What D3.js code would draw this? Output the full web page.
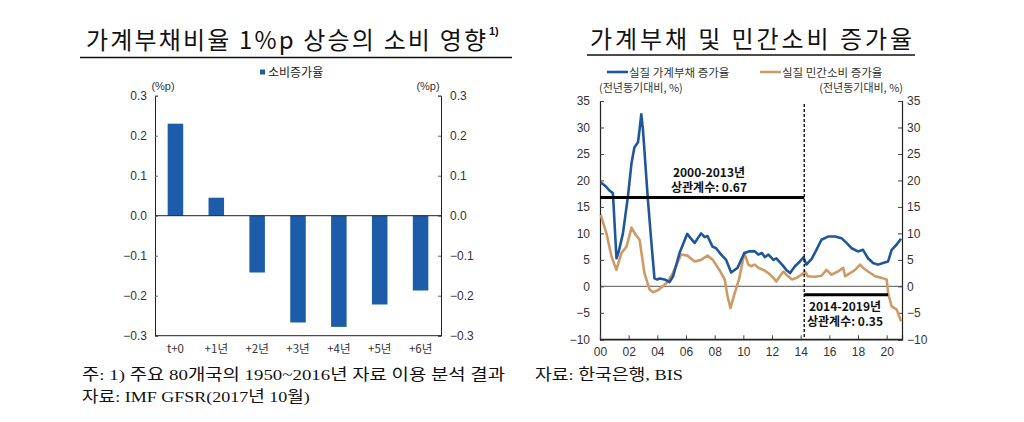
<!DOCTYPE html>
<html><head><meta charset="utf-8">
<script src="https://cdn.jsdelivr.net/npm/d3@7"></script>
<style>
html,body{margin:0;padding:0;background:#fff;}
svg{display:block;}
</style></head>
<body>
<svg id="c" width="1024" height="422"></svg>
<script>
// ---------- Left chart data ----------
const barCategories = ["t+0","+1년","+2년","+3년","+4년","+5년","+6년"];
const barValues = [0.23, 0.045, -0.142, -0.267, -0.278, -0.222, -0.187];
const barTicks = [-0.3,-0.2,-0.1,0.0,0.1,0.2,0.3];

// ---------- Right chart data ----------
const debtYears = [2000.05,2000.4,2000.7,2000.9,2001.15,2001.3,2001.6,2001.95,2002.2,2002.4,2002.65,2002.76,2002.88,2003.0,2003.34,2003.57,2003.8,2004.0,2004.15,2004.5,2004.85,2005.1,2005.55,2006.08,2006.35,2006.6,2007.05,2007.3,2007.5,2007.85,2008.1,2008.45,2008.8,2009.15,2009.6,2010.07,2010.4,2010.8,2011.05,2011.3,2011.5,2011.75,2012.1,2012.3,2012.7,2013.0,2013.26,2013.6,2013.95,2014.2,2014.4,2014.77,2015.1,2015.45,2015.9,2016.4,2016.85,2017.2,2017.55,2018.0,2018.35,2018.7,2019.05,2019.4,2019.75,2020.1,2020.35,2020.7,2021.0];
const debtGrowth = [19.6,18.9,18.0,17.6,5.3,6.5,10,17,23.3,26.2,27.2,29.6,32.5,29.5,16.4,8.8,1.5,1.3,1.5,1.3,0.8,1.9,6.3,9.9,9.0,8.2,10,9.3,9.5,7.5,7.2,6,5,2.6,3.5,6.3,6.6,6.6,6.0,6.3,5.5,6.0,5.0,5.3,4.1,3.1,2.5,3.8,4.7,5.5,4.1,5.2,6.9,8.8,9.4,9.4,9.1,8.2,7.2,6.6,6.9,5.3,4.4,4.1,4.4,4.7,6.9,7.9,9.0];
const consYears = [2000.05,2000.45,2000.8,2001.14,2001.5,2001.85,2002.2,2002.5,2002.76,2003.1,2003.46,2003.7,2004.04,2004.5,2004.73,2005.08,2005.66,2006.1,2006.6,2007.05,2007.5,2007.87,2008.33,2008.7,2008.9,2009.1,2009.4,2009.7,2010.07,2010.35,2010.55,2010.8,2011.05,2011.4,2011.75,2012.1,2012.3,2012.55,2012.8,2013.0,2013.4,2013.7,2014.07,2014.3,2014.5,2015.0,2015.45,2015.8,2016.15,2016.6,2016.97,2017.1,2017.45,2017.8,2018.15,2018.35,2018.7,2019.2,2019.65,2020.0,2020.1,2020.35,2020.7,2021.0];
const consGrowth = [13.5,10,5.7,3.1,6.3,7.5,11.1,9.7,8.8,2.5,-0.6,-1.1,-0.75,0.3,0.9,2.5,6.0,5.8,4.7,5.0,5.8,5.0,3.1,1.3,-1.9,-4.1,-1.3,1.3,6.3,4.1,3.8,4.1,3.5,3.1,2.5,1.6,0.9,1.9,2.8,2.2,1.3,1.6,2.2,2.8,1.9,1.8,2.0,3.1,2.2,2.8,3.5,1.9,2.5,3.1,4.1,3.5,2.8,1.9,1.6,1.3,-1.3,-3.8,-4.4,-6.6];
const lineTicksY = [-10,-5,0,5,10,15,20,25,30,35];
const lineTicksX = [2000,2002,2004,2006,2008,2010,2012,2014,2016,2018,2020];
const seriesNames = ["실질 가계부채 증가율","실질 민간소비 증가율"];
const splitYear = 2014.25;
const corrLevels = [16.8, -1.6];
const corrEnd = 2020.1;
const corrLabels = [["2000-2013년","상관계수: 0.67"],["2014-2019년","상관계수: 0.35"]];

const BLUE_BAR = "#1c5ca8", BLUE = "#1f569e", ORANGE = "#cf9a66";
const KR = "'Noto Sans CJK KR', sans-serif";
const NUM = "'Liberation Sans', Arial, sans-serif";
const SERIF = "'Liberation Serif', 'Noto Sans CJK KR', serif";

const svg = d3.select("#c");

// ---------- Titles ----------
function title(x, y, txt, len, sup, ux0, ux1, uy) {
  svg.append("text").attr("x", x).attr("y", y)
    .attr("font-family", KR).attr("font-size", 24).attr("font-weight", 400).attr("fill", "#111")
    .attr("textLength", len).attr("lengthAdjust", "spacing").text(txt);
  if (sup) svg.append("text").attr("x", x + len + 3).attr("y", y - 14)
    .attr("font-family", NUM).attr("font-size", 11).attr("font-weight", "bold").attr("fill","#111").text(sup);
  svg.append("line").attr("x1", ux0).attr("x2", ux1).attr("y1", uy).attr("y2", uy)
    .attr("stroke", "#111").attr("stroke-width", 1.5);
}
title(86, 49, "가계부채비율 1%p 상승의 소비 영향", 400, "1)", 80, 512, 57.5);
title(590, 48, "가계부채 및 민간소비 증가율", 322, null, 587, 915, 55);

// ---------- Left bar chart ----------
const xL = d3.scaleBand().domain(barCategories).range([155, 441]).paddingInner(0.62).paddingOuter(0.31);
const yL = d3.scaleLinear().domain([-0.3, 0.3]).range([335.7, 95.7]);
const fmt = d3.format(".1f");

const gl = svg.append("g");
gl.selectAll("rect").data(barValues).join("rect")
  .attr("x", (d, i) => xL(barCategories[i]))
  .attr("width", xL.bandwidth())
  .attr("y", d => yL(Math.max(0, d)))
  .attr("height", d => Math.abs(yL(d) - yL(0)))
  .attr("fill", BLUE_BAR);

const axL = gl.append("g").attr("transform", "translate(155,0)")
  .call(d3.axisLeft(yL).tickValues(barTicks).tickFormat(fmt).tickSize(-3).tickPadding(8));
const axR = gl.append("g").attr("transform", "translate(441,0)")
  .call(d3.axisRight(yL).tickValues(barTicks).tickFormat(fmt).tickSize(-3).tickPadding(9));
[axL, axR].forEach(a => {
  a.select(".domain").attr("stroke", "#222");
  a.selectAll(".tick line").attr("stroke", "#666");
  a.selectAll("text").attr("font-family", NUM).attr("font-size", 12).attr("fill", "#333");
});
gl.append("line").attr("x1", 155).attr("x2", 441).attr("y1", yL(-0.3)).attr("y2", yL(-0.3)).attr("stroke", "#222");
gl.append("line").attr("x1", 155).attr("x2", 441).attr("y1", yL(0)).attr("y2", yL(0)).attr("stroke", "#222");

const axB = gl.append("g").attr("transform", `translate(0,${yL(-0.3)})`)
  .call(d3.axisBottom(xL).tickSize(0).tickPadding(9));
axB.select(".domain").remove();
axB.selectAll("text").attr("font-family", KR).attr("font-size", 11.5).attr("fill", "#333");

gl.append("text").attr("x", 163).attr("y", 90).attr("text-anchor", "middle")
  .attr("font-family", NUM).attr("font-size", 11).attr("fill", "#333").text("(%p)");
gl.append("text").attr("x", 428).attr("y", 90).attr("text-anchor", "middle")
  .attr("font-family", NUM).attr("font-size", 11).attr("fill", "#333").text("(%p)");
gl.append("rect").attr("x", 260).attr("y", 69.5).attr("width", 5).attr("height", 5).attr("fill", BLUE_BAR);
gl.append("text").attr("x", 268).attr("y", 76.5).attr("font-family", KR).attr("font-size", 12)
  .attr("fill", "#222").text("소비증가율");

// ---------- Right line chart ----------
const xR = d3.scaleLinear().domain([2000, 2021.07]).range([600, 902]);
const yR = d3.scaleLinear().domain([-10, 35]).range([339.3, 101]);
const gr = svg.append("g");

gr.append("line").attr("x1", 600).attr("x2", 902).attr("y1", yR(0)).attr("y2", yR(0))
  .attr("stroke", "#777").attr("stroke-width", 1.3);

const ayl = gr.append("g").attr("transform", "translate(600,0)")
  .call(d3.axisLeft(yR).tickValues(lineTicksY).tickSize(-4).tickPadding(10));
const ayr = gr.append("g").attr("transform", "translate(902,0)")
  .call(d3.axisRight(yR).tickValues(lineTicksY).tickSize(-4).tickPadding(5));
const axx = gr.append("g").attr("transform", `translate(0,${yR(-10)})`)
  .call(d3.axisBottom(xR).tickValues(lineTicksX).tickFormat(d => String(d % 100).padStart(2, "0")).tickSize(-4).tickPadding(8));
[ayl, ayr, axx].forEach(a => {
  a.select(".domain").attr("stroke", "#222").attr("stroke-width", 1.2);
  a.selectAll(".tick line").attr("stroke", "#444");
  a.selectAll("text").attr("font-family", NUM).attr("font-size", 12).attr("fill", "#333");
});
gr.append("line").attr("x1", 600).attr("x2", 902).attr("y1", yR(-10)).attr("y2", yR(-10)).attr("stroke", "#222").attr("stroke-width", 1.2);

const line = d3.line().x(d => xR(d[0])).y(d => yR(d[1]));
gr.append("path").datum(consYears.map((t, i) => [t, consGrowth[i]])).attr("d", line)
  .attr("fill", "none").attr("stroke", ORANGE).attr("stroke-width", 2.6).attr("stroke-linejoin", "round");
gr.append("path").datum(debtYears.map((t, i) => [t, debtGrowth[i]])).attr("d", line)
  .attr("fill", "none").attr("stroke", BLUE).attr("stroke-width", 2.6).attr("stroke-linejoin", "round");

// split line
gr.append("line").attr("x1", xR(splitYear)).attr("x2", xR(splitYear)).attr("y1", 104).attr("y2", yR(-10))
  .attr("stroke", "#111").attr("stroke-width", 1.4).attr("stroke-dasharray", "3,2");
// correlation period bars
gr.append("line").attr("x1", xR(2000)).attr("x2", xR(splitYear)).attr("y1", yR(corrLevels[0])).attr("y2", yR(corrLevels[0]))
  .attr("stroke", "#000").attr("stroke-width", 3);
gr.append("line").attr("x1", xR(splitYear)).attr("x2", xR(corrEnd)).attr("y1", yR(corrLevels[1])).attr("y2", yR(corrLevels[1]))
  .attr("stroke", "#000").attr("stroke-width", 3);

function corrText(cx, y1, y2, lines) {
  gr.append("text").attr("x", cx).attr("y", y1).attr("text-anchor", "middle").attr("font-family", KR)
    .attr("font-size", 12).attr("font-weight", "bold").attr("fill", "#111").text(lines[0]);
  gr.append("text").attr("x", cx).attr("y", y2).attr("text-anchor", "middle").attr("font-family", KR)
    .attr("font-size", 12).attr("font-weight", "bold").attr("fill", "#111").text(lines[1]);
}
corrText(709, 177, 192, corrLabels[0]);
corrText(845, 311, 326, corrLabels[1]);

gr.append("text").attr("x", 599).attr("y", 92).attr("font-family", KR).attr("font-size", 11).attr("fill", "#333").text("(전년동기대비, %)");
gr.append("text").attr("x", 903).attr("y", 92).attr("text-anchor", "end").attr("font-family", KR).attr("font-size", 11).attr("fill", "#333").text("(전년동기대비, %)");

// legend
[[607, BLUE, seriesNames[0]], [760, ORANGE, seriesNames[1]]].forEach(([x, c, s]) => {
  gr.append("line").attr("x1", x).attr("x2", x + 21).attr("y1", 72).attr("y2", 72).attr("stroke", c).attr("stroke-width", 2.6);
  gr.append("text").attr("x", x + 22).attr("y", 76.5).attr("font-family", KR).attr("font-size", 11.5).attr("fill", "#333").text(s);
});

// ---------- Footnotes (horizontally condensed to match width) ----------
function foot(x, y, w, txt) {
  const t = svg.append("text").attr("font-family", SERIF).attr("font-size", 15.5).attr("fill", "#111").text(txt);
  const len = t.node().getComputedTextLength();
  t.attr("transform", `translate(${x},${y}) scale(${w / len},1)`);
}
foot(82, 380, 423, "주: 1) 주요 80개국의 1950~2016년 자료 이용 분석 결과");
foot(82, 402, 228, "자료: IMF GFSR(2017년 10월)");
foot(535, 380, 148, "자료: 한국은행, BIS");
</script>
</body></html>
